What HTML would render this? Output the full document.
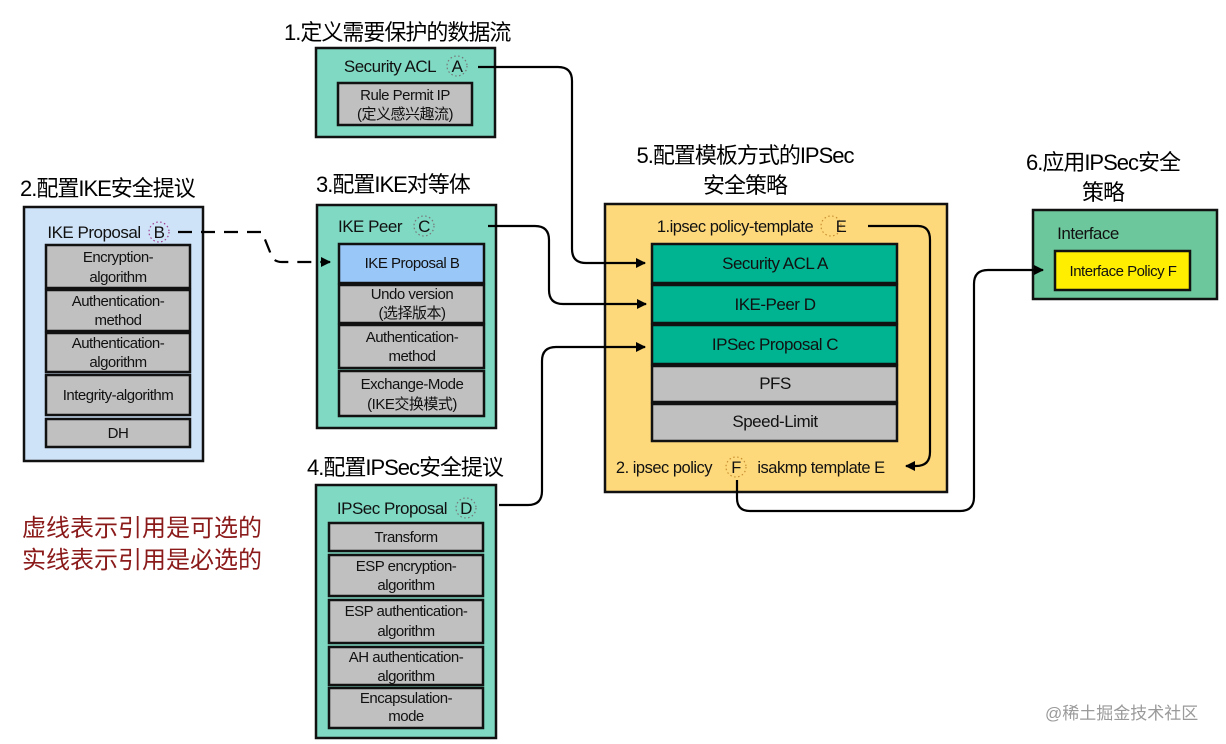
<!DOCTYPE html>
<html><head><meta charset="utf-8"><style>
html,body{margin:0;padding:0;background:#fff;}
svg{display:block;font-family:"Liberation Sans","Noto Sans CJK SC",sans-serif;}
.t{font-size:15px;fill:#111;text-anchor:middle;letter-spacing:-0.5px;}
.h{font-size:22px;fill:#000;letter-spacing:-1px;}
.row{stroke:#111;stroke-width:2.5;}
.ln{fill:none;stroke:#000;stroke-width:2.2;}
.dc{fill:none;stroke-width:1.2;stroke-dasharray:1.5 2.5;}
</style></head><body>
<svg width="1226" height="744" viewBox="0 0 1226 744">
<defs><marker id="ar" markerWidth="10" markerHeight="10" refX="9" refY="5" orient="auto" markerUnits="userSpaceOnUse"><path d="M0,0 L10,5 L0,10 Z" fill="#000"/></marker></defs>

<text class="h" x="284" y="40">1.定义需要保护的数据流</text>
<text class="h" x="20" y="196">2.配置IKE安全提议</text>
<text class="h" x="316" y="192">3.配置IKE对等体</text>
<text class="h" x="307" y="475">4.配置IPSec安全提议</text>
<text class="h" x="745" y="163" text-anchor="middle">5.配置模板方式的IPSec</text>
<text class="h" x="745" y="193" text-anchor="middle">安全策略</text>
<text class="h" x="1103" y="170" text-anchor="middle">6.应用IPSec安全</text>
<text class="h" x="1103" y="200" text-anchor="middle">策略</text>

<rect x="316" y="48" width="179" height="89" fill="#7fd9c3" stroke="#111" stroke-width="2.5"/>
<text class="t" x="390" y="72" style="font-size:17px">Security ACL</text>
<circle cx="457" cy="66" r="10" class="dc" stroke="#777"/>
<text class="t" x="457" y="72" style="font-size:17px">A</text>
<rect x="338" y="83" width="134" height="42" fill="#c0c0c0" class="row"/>
<text class="t" x="405" y="100">Rule Permit IP</text>
<text class="t" x="405" y="119">(定义感兴趣流)</text>

<rect x="24" y="207" width="179" height="254" fill="#cfe3f8" stroke="#111" stroke-width="2.5"/>
<text class="t" x="94" y="238" style="font-size:17px">IKE Proposal</text>
<circle cx="159" cy="232" r="10" class="dc" stroke="#a04090"/>
<text class="t" x="159" y="238" style="font-size:17px">B</text>
<rect x="46" y="245" width="144" height="43" fill="#c0c0c0" class="row"/>
<text class="t" x="118" y="262">Encryption-</text><text class="t" x="118" y="282">algorithm</text>
<rect x="46" y="290" width="144" height="41" fill="#c0c0c0" class="row"/>
<text class="t" x="118" y="306">Authentication-</text><text class="t" x="118" y="325">method</text>
<rect x="46" y="333" width="144" height="39" fill="#c0c0c0" class="row"/>
<text class="t" x="118" y="348">Authentication-</text><text class="t" x="118" y="367">algorithm</text>
<rect x="46" y="375" width="144" height="40" fill="#c0c0c0" class="row"/>
<text class="t" x="118" y="400">Integrity-algorithm</text>
<rect x="46" y="419" width="144" height="28" fill="#c0c0c0" class="row"/>
<text class="t" x="118" y="438">DH</text>

<rect x="317" y="205" width="179" height="223" fill="#7fd9c3" stroke="#111" stroke-width="2.5"/>
<text class="t" x="370" y="232" style="font-size:17px">IKE Peer</text>
<circle cx="424" cy="226" r="10" class="dc" stroke="#777"/>
<text class="t" x="424" y="232" style="font-size:17px">C</text>
<rect x="339" y="244" width="145" height="39" fill="#99c7f7" class="row"/>
<text class="t" x="412" y="268">IKE Proposal B</text>
<rect x="339" y="285" width="145" height="38" fill="#c0c0c0" class="row"/>
<text class="t" x="412" y="299">Undo version</text><text class="t" x="412" y="318">(选择版本)</text>
<rect x="339" y="325" width="145" height="43" fill="#c0c0c0" class="row"/>
<text class="t" x="412" y="342">Authentication-</text><text class="t" x="412" y="361">method</text>
<rect x="339" y="371" width="145" height="45" fill="#c0c0c0" class="row"/>
<text class="t" x="412" y="389">Exchange-Mode</text><text class="t" x="412" y="409">(IKE交换模式)</text>

<rect x="316" y="485" width="180" height="253" fill="#7fd9c3" stroke="#111" stroke-width="2.5"/>
<text class="t" x="392" y="514" style="font-size:17px">IPSec Proposal</text>
<circle cx="466" cy="508" r="10" class="dc" stroke="#777"/>
<text class="t" x="466" y="514" style="font-size:17px">D</text>
<rect x="329" y="523" width="154" height="28" fill="#c0c0c0" class="row"/>
<text class="t" x="406" y="542">Transform</text>
<rect x="329" y="555" width="154" height="41" fill="#c0c0c0" class="row"/>
<text class="t" x="406" y="571">ESP encryption-</text><text class="t" x="406" y="590">algorithm</text>
<rect x="329" y="600" width="154" height="43" fill="#c0c0c0" class="row"/>
<text class="t" x="406" y="616">ESP authentication-</text><text class="t" x="406" y="636">algorithm</text>
<rect x="329" y="647" width="154" height="38" fill="#c0c0c0" class="row"/>
<text class="t" x="406" y="662">AH authentication-</text><text class="t" x="406" y="681">algorithm</text>
<rect x="329" y="688" width="154" height="40" fill="#c0c0c0" class="row"/>
<text class="t" x="406" y="703">Encapsulation-</text><text class="t" x="406" y="721">mode</text>

<rect x="605" y="204" width="342" height="288" fill="#fdd97c" stroke="#111" stroke-width="2.5"/>
<text class="t" x="735" y="232" style="font-size:16.5px">1.ipsec policy-template</text>
<circle cx="831" cy="226" r="10" class="dc" stroke="#c89030"/>
<text class="t" x="841" y="232" style="font-size:16.5px">E</text>
<rect x="652" y="244" width="245" height="39" fill="#00b391" class="row"/>
<text class="t" x="775" y="269" style="font-size:17px">Security ACL A</text>
<rect x="652" y="285" width="245" height="38" fill="#00b391" class="row"/>
<text class="t" x="775" y="310" style="font-size:17px">IKE-Peer D</text>
<rect x="652" y="325" width="245" height="39" fill="#00b391" class="row"/>
<text class="t" x="775" y="350" style="font-size:17px">IPSec Proposal C</text>
<rect x="652" y="366" width="245" height="36" fill="#c0c0c0" class="row"/>
<text class="t" x="775" y="389" style="font-size:17px">PFS</text>
<rect x="652" y="404" width="245" height="37" fill="#c0c0c0" class="row"/>
<text class="t" x="775" y="427" style="font-size:17px">Speed-Limit</text>
<text class="t" x="664" y="473" style="font-size:16.5px">2. ipsec policy</text>
<circle cx="736" cy="467" r="10" class="dc" stroke="#c89030"/>
<text class="t" x="736" y="473" style="font-size:16.5px">F</text>
<text class="t" x="821" y="473" style="font-size:16.5px">isakmp template E</text>

<rect x="1033" y="210" width="184" height="89" fill="#6dc79c" stroke="#111" stroke-width="2.5"/>
<text class="t" x="1088" y="239" style="font-size:17px">Interface</text>
<rect x="1055" y="251" width="135" height="39" fill="#ffee00" class="row"/>
<text class="t" x="1123" y="276">Interface Policy F</text>

<path class="ln" d="M478,67 H558 Q572,67 572,81 V249 Q572,263 586,263 H645" marker-end="url(#ar)"/>
<path class="ln" d="M488,226 H535 Q549,226 549,240 V290 Q549,304 563,304 H646" marker-end="url(#ar)"/>
<path class="ln" d="M499,505 H528 Q542,505 542,491 V361 Q542,347 556,347 H645" marker-end="url(#ar)"/>
<path class="ln" d="M178,232 H262 L270,252 Q272,262 282,262 H330" stroke-dasharray="14 9" marker-end="url(#ar)"/>
<path class="ln" d="M868,226 H918 Q930,226 930,240 V452 Q930,466 916,466 H906" marker-end="url(#ar)"/>
<path class="ln" d="M737,480 V498 Q737,511 750,511 H960 Q974,511 974,497 V284 Q974,270 988,270 H1043" marker-end="url(#ar)"/>

<text x="22" y="536" style="font-size:24px;fill:#8b1a1a">虚线表示引用是可选的</text>
<text x="22" y="568" style="font-size:24px;fill:#8b1a1a">实线表示引用是必选的</text>
<text x="1045" y="719" style="font-size:17px;fill:#9a9a9a">@稀土掘金技术社区</text>
</svg>
</body></html>
